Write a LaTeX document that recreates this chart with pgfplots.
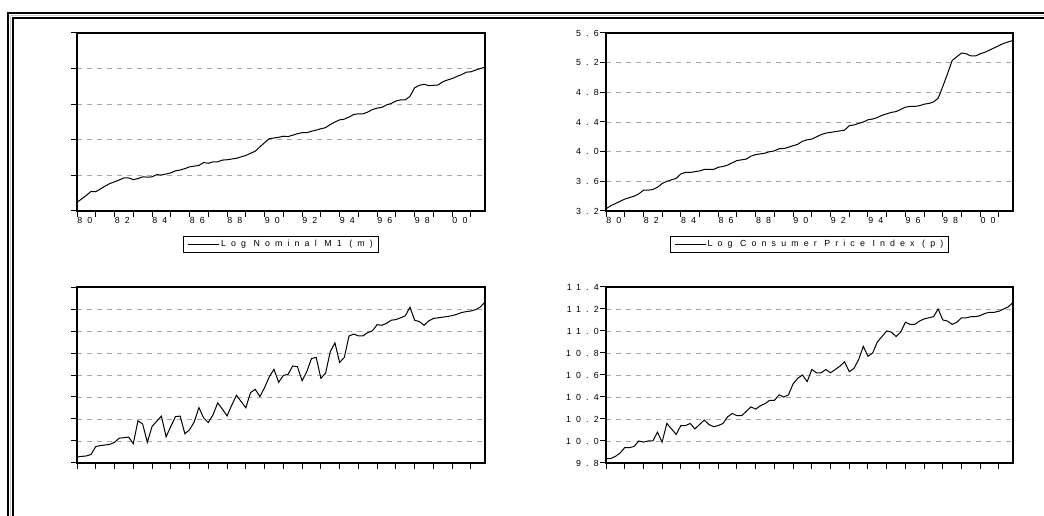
\documentclass[border=0pt]{standalone}
\usepackage{fontspec}
\setmainfont{Liberation Sans}
\newfontfamily\ev[LetterSpace=58]{Liberation Sans}
\usepackage{pgfplots}
\usepackage{pgfplotstable}
\pgfplotsset{compat=1.18}

\pgfplotstableread{
t m p bl br
1980.00 8.24 3.23 0.27 9.84
1980.25 8.34 3.27 0.30 9.84
1980.50 8.44 3.30 0.32 9.86
1980.75 8.55 3.33 0.39 9.89
1981.00 8.54 3.36 0.75 9.94
1981.25 8.62 3.38 0.79 9.94
1981.50 8.70 3.40 0.82 9.95
1981.75 8.77 3.43 0.85 10.00
1982.00 8.82 3.48 0.94 9.99
1982.25 8.87 3.48 1.13 10.00
1982.50 8.93 3.49 1.15 10.00
1982.75 8.93 3.52 1.18 10.08
1983.00 8.88 3.57 0.88 9.99
1983.25 8.91 3.60 1.92 10.16
1983.50 8.96 3.62 1.77 10.11
1983.75 8.95 3.64 0.94 10.06
1984.00 8.96 3.70 1.66 10.14
1984.25 9.02 3.72 1.90 10.14
1984.50 9.01 3.72 2.13 10.16
1984.75 9.04 3.73 1.19 10.11
1985.00 9.07 3.74 1.66 10.15
1985.25 9.13 3.76 2.11 10.19
1985.50 9.15 3.76 2.13 10.15
1985.75 9.19 3.76 1.33 10.13
1986.00 9.24 3.79 1.51 10.14
1986.25 9.26 3.80 1.87 10.16
1986.50 9.28 3.82 2.52 10.22
1986.75 9.36 3.85 2.05 10.25
1987.00 9.34 3.88 1.84 10.23
1987.25 9.38 3.89 2.19 10.23
1987.50 9.38 3.90 2.73 10.27
1987.75 9.43 3.94 2.45 10.31
1988.00 9.44 3.96 2.14 10.29
1988.25 9.46 3.97 2.63 10.32
1988.50 9.48 3.98 3.08 10.34
1988.75 9.52 4.00 2.79 10.37
1989.00 9.56 4.01 2.51 10.37
1989.25 9.62 4.04 3.20 10.42
1989.50 9.68 4.04 3.35 10.40
1989.75 9.80 4.06 3.02 10.42
1990.00 9.92 4.08 3.43 10.52
1990.25 10.03 4.10 3.92 10.57
1990.50 10.05 4.14 4.26 10.60
1990.75 10.07 4.16 3.67 10.54
1991.00 10.10 4.17 3.98 10.65
1991.25 10.09 4.20 4.03 10.62
1991.50 10.13 4.23 4.41 10.62
1991.75 10.17 4.25 4.38 10.65
1992.00 10.20 4.26 3.74 10.62
1992.25 10.20 4.27 4.15 10.65
1992.50 10.24 4.28 4.75 10.68
1992.75 10.27 4.29 4.80 10.72
1993.00 10.31 4.35 3.85 10.63
1993.25 10.34 4.36 4.08 10.66
1993.50 10.43 4.38 5.06 10.74
1993.75 10.50 4.40 5.46 10.86
1994.00 10.56 4.43 4.57 10.77
1994.25 10.58 4.44 4.80 10.80
1994.50 10.64 4.46 5.77 10.90
1994.75 10.71 4.49 5.86 10.95
1995.00 10.73 4.51 5.78 11.00
1995.25 10.73 4.53 5.78 10.99
1995.50 10.78 4.54 5.93 10.95
1995.75 10.85 4.57 6.01 10.99
1996.00 10.89 4.60 6.29 11.08
1996.25 10.91 4.61 6.26 11.06
1996.50 10.98 4.61 6.35 11.06
1996.75 11.02 4.62 6.49 11.09
1997.00 11.09 4.64 6.52 11.11
1997.25 11.12 4.65 6.60 11.12
1997.50 11.12 4.67 6.69 11.13
1997.75 11.22 4.72 7.08 11.20
1998.00 11.46 4.88 6.49 11.10
1998.25 11.53 5.05 6.43 11.09
1998.50 11.56 5.23 6.26 11.06
1998.75 11.52 5.28 6.46 11.08
1999.00 11.53 5.33 6.57 11.12
1999.25 11.54 5.32 6.60 11.12
1999.50 11.63 5.29 6.63 11.13
1999.75 11.68 5.29 6.66 11.13
2000.00 11.72 5.32 6.70 11.14
2000.25 11.78 5.34 6.76 11.16
2000.50 11.83 5.37 6.84 11.17
2000.75 11.90 5.40 6.88 11.17
2001.00 11.91 5.43 6.91 11.18
2001.25 11.96 5.46 6.97 11.20
2001.50 12.00 5.48 7.09 11.22
2001.75 12.04 5.50 7.32 11.26
}\data

\newcommand\evf{\ev\fontsize{5.3}{6.2}\selectfont}

\pgfplotsset{
  evstyle/.style={
    scale only axis,
    xmin=1980, xmax=2001.75,
    axis line style={line width=0.9pt},
    xtick pos=bottom, ytick pos=left,
    tick align=outside,
    major tick length=3.6pt,
    tick style={black, line width=0.6pt},
    xtick={1980,...,2001},
    ymajorgrids,
    grid style={dashed, gray!70, line width=0.5pt},
    ticklabel style={font=\evf, text=black},
    yticklabel style={inner sep=0pt, xshift=-0.6pt},
    xticklabel style={anchor=north west, inner sep=0pt, yshift=-0.2pt},
    legend style={draw=black, line width=0.5pt, font=\evf, text=black,
      at={(0.5,-0.14)}, anchor=north, inner xsep=2.5pt, inner ysep=1.3pt,
      nodes={inner sep=0.8pt}},
    legend image code/.code={\draw[black, line width=0.5pt] (0pt,0pt) -- (18.6pt,0pt);},
  },
  evtop/.style={xticklabels={80,,82,,84,,86,,88,,90,,92,,94,,96,,98,,00,}},
  evbot/.style={xticklabels={}},
}

\begin{document}
\begin{tikzpicture}
\path[use as bounding box] (0,0) rectangle (626.4pt,309.6pt);
\draw[line width=1.2pt] (4.5pt,-2pt) -- (4.5pt,301.8pt) -- (630pt,301.8pt);
\draw[line width=0.6pt, gray!40] (6.15pt,-2pt) -- (6.15pt,300.3pt) -- (630pt,300.3pt);
\draw[line width=1.2pt] (7.8pt,-2pt) -- (7.8pt,298.8pt) -- (630pt,298.8pt);

% Top-left
\begin{axis}[evstyle, evtop, at={(46.2pt,183pt)}, anchor=south west,
  width=244.8pt, height=106.8pt,
  ymin=8, ymax=13, ytick={8,9,10,11,12,13}, yticklabels={}]
\addplot[black, line width=0.6pt] table[x=t, y=m] {\data};
\addlegendentry{Log Nominal M1 (m)}
\end{axis}

% Top-right
\begin{axis}[evstyle, evtop, at={(363.6pt,183pt)}, anchor=south west,
  width=244.2pt, height=106.8pt,
  ymin=3.2, ymax=5.6, ytick={3.2,3.6,4.0,4.4,4.8,5.2,5.6},
  yticklabels={3.2,3.6,4.0,4.4,4.8,5.2,5.6}]
\addplot[black, line width=0.6pt] table[x=t, y=p] {\data};
\addlegendentry{Log Consumer Price Index (p)}
\end{axis}

% Bottom-left
\begin{axis}[evstyle, evbot, at={(46.2pt,31.8pt)}, anchor=south west,
  width=244.8pt, height=105.6pt,
  ymin=0, ymax=8, ytick={0,1,2,3,4,5,6,7,8}, yticklabels={}]
\addplot[black, line width=0.6pt] table[x=t, y=bl] {\data};
\end{axis}

% Bottom-right
\begin{axis}[evstyle, evbot, at={(363.6pt,31.8pt)}, anchor=south west,
  width=244.2pt, height=105.6pt,
  ymin=9.8, ymax=11.4, ytick={9.8,10.0,10.2,10.4,10.6,10.8,11.0,11.2,11.4},
  yticklabels={9.8,10.0,10.2,10.4,10.6,10.8,11.0,11.2,11.4}]
\addplot[black, line width=0.6pt] table[x=t, y=br] {\data};
\end{axis}
\end{tikzpicture}
\end{document}
